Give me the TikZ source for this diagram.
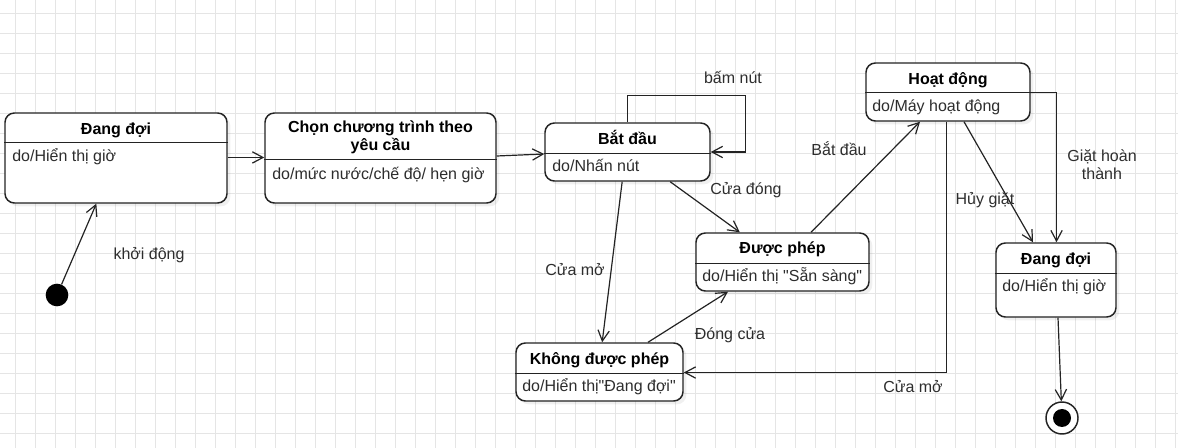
\documentclass[tikz,border=0pt]{standalone}
\usepackage{fontspec}
\setmainfont{Liberation Sans}
\usetikzlibrary{arrows.meta,shadows}
\definecolor{gridGray}{RGB}{229,229,229}
\definecolor{lineDark}{RGB}{35,35,35}
\definecolor{textDark}{RGB}{45,45,45}

\begin{document}
\begin{tikzpicture}[x=0.75pt, y=-0.75pt, font=\fontsize{12}{13.5}\selectfont,
		>={Straight Barb[length=8pt,width=8.5pt]},
		gridline/.style={draw=gridGray, line width=0.5pt},
		statebox/.style={draw=lineDark, line width=1.1pt, rounded corners=7pt, fill=white, inner sep=0pt,
			drop shadow={shadow xshift=2.5pt, shadow yshift=-2.5pt, opacity=0.12}},
		sepline/.style={draw=lineDark, line width=1.1pt},
		trans/.style={draw=lineDark, line width=0.9pt},
		title/.style={font=\fontsize{12}{13.5}\selectfont\bfseries, inner sep=0pt, anchor=base},
		body/.style={text=textDark, inner sep=0pt, anchor=base west},
		initial/.style={circle, fill=black, inner sep=0pt, minimum size=17pt},
		final/.style={circle, draw=lineDark, line width=1.1pt, fill=white, inner sep=0pt, minimum size=24pt,
			path picture={\fill[black] (path picture bounding box.center) circle (6.75pt);}}]
		\useasboundingbox (0,0) rectangle (1178,448);
		
		% Grid
		\foreach \gx in {15,35,...,1175} \draw[gridline] (\gx,0) -- (\gx,448);
		\foreach \gy in {13,33,...,433} \draw[gridline] (0,\gy) -- (1178,\gy);
		
		% States
		\begin{scope}[every node/.style={statebox}]
			\node[minimum width=166.5pt, minimum height=67.5pt] (wait1) at (116,158) {};
			\node[minimum width=173.25pt, minimum height=67.5pt] (choose) at (380.5,158) {};
			\node[minimum width=123.75pt, minimum height=43.5pt] (start) at (627.5,152) {};
			\node[minimum width=129.75pt, minimum height=43.5pt] (allowed) at (782.5,262) {};
			\node[minimum width=125.25pt, minimum height=43.5pt] (denied) at (599.5,372) {};
			\node[minimum width=123pt, minimum height=43.5pt] (run) at (948,92) {};
			\node[minimum width=90pt, minimum height=55.5pt] (wait2) at (1056,280) {};
		\end{scope}
		
		% Compartments
		\draw[sepline] ([yshift=-22.5pt]wait1.north west) -- ([yshift=-22.5pt]wait1.north east);
		\draw[sepline] ([yshift=-35.25pt]choose.north west) -- ([yshift=-35.25pt]choose.north east);
		\draw[sepline] ([yshift=-23.25pt]start.north west) -- ([yshift=-23.25pt]start.north east);
		\draw[sepline] ([yshift=-23.25pt]allowed.north west) -- ([yshift=-23.25pt]allowed.north east);
		\draw[sepline] ([yshift=-23.25pt]denied.north west) -- ([yshift=-23.25pt]denied.north east);
		\draw[sepline] ([yshift=-22.5pt]run.north west) -- ([yshift=-22.5pt]run.north east);
		\draw[sepline] ([yshift=-23.25pt]wait2.north west) -- ([yshift=-23.25pt]wait2.north east);
		
		% State names
		\node[title] (wait1Name) at (116,134.5) {Đang đợi};
		\node[title, anchor=center, align=center] (chooseName) at (380.5,137) {Chọn chương trình theo\\yêu cầu};
		\node[title] (startName) at (627.5,144.5) {Bắt đầu};
		\node[title] (allowedName) at (782.5,253.5) {Được phép};
		\node[title] (deniedName) at (599.5,364.5) {Không được phép};
		\node[title] (runName) at (948,84.5) {Hoạt động};
		\node[title] (wait2Name) at (1056,264.5) {Đang đợi};
		
		% Activities
		\node[body] (wait1Do) at (12,162) {do/Hiển thị giờ};
		\node[body] (chooseDo) at (272,180) {do/mức nước/chế độ/ hẹn giờ};
		\node[body] (startDo) at (552,172) {do/Nhấn nút};
		\node[body] (allowedDo) at (702,282) {do/Hiển thị \textquotedbl Sẵn sàng\textquotedbl};
		\node[body] (deniedDo) at (522,392) {do/Hiển thị\textquotedbl Đang đợi\textquotedbl};
		\node[body] (runDo) at (872,112) {do/Máy hoạt động};
		\node[body] (wait2Do) at (1002,292) {do/Hiển thị giờ};
		
		% Pseudo states
		\node[initial] (init) at (57,295) {};
		\node[final] (done) at (1062,418) {};
		
		% Transitions
		\begin{scope}[every edge/.style={trans}]
			\path [->] (init) edge (wait1);
			\path [->] ([yshift=0.4pt]wait1.east) edge ([yshift=0.4pt]choose.west);
			\path [->] ([yshift=1.5pt]choose.east) edge ([yshift=-1.5pt]start.west);
			\path [->] ([xshift=32pt]start.south) edge ([xshift=-32pt]allowed.north);
			\path [->] ([xshift=-4pt]start.south) edge ([xshift=2pt]denied.north);
			\path [->] ([xshift=36.4pt]denied.north) edge ([xshift=-40.9pt]allowed.south);
			\path [->] ([xshift=21.4pt]allowed.north) edge ([xshift=-21pt]run.south);
			\path [->] ([xshift=12pt]run.south) edge ([xshift=-17.25pt]wait2.north);
			\path [->] ([xshift=1.5pt]wait2.south) edge (done);
		\end{scope}
		\draw [trans, ->] (start.north) -- ++(0,-27) -| ([xshift=26.25pt]start.east) -- (start.east);
		\draw [trans, ->] ([xshift=-1.1pt]run.south) |- ([yshift=-0.4pt]denied.east);
		\draw [trans, ->] ([yshift=-0.4pt]run.east) -| ([xshift=0.4pt]wait2.north);
		
		% Labels
		\begin{scope}[every node/.style={text=textDark, inner sep=0pt, anchor=base}]
			\node (bootLbl) at (149,260) {khởi động};
			\node (pressLbl) at (733,84) {bấm nút};
			\node (closedLbl) at (746,195) {Cửa đóng};
			\node (openLbl) at (575,276) {Cửa mở};
			\node (goLbl) at (839,156) {Bắt đầu};
			\node (closeLbl) at (730,340) {Đóng cửa};
			\node (openLbl2) at (913,393) {Cửa mở};
			\node (cancelLbl) at (985,205) {Hủy giặt};
			\node[anchor=center, align=center] (doneLbl) at (1102,165) {Giặt hoàn\\thành};
		\end{scope}
	\end{tikzpicture}
\end{document}
